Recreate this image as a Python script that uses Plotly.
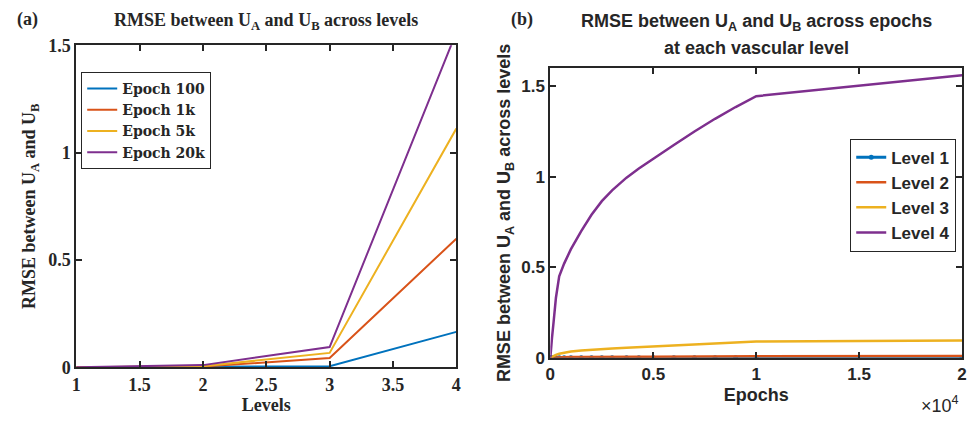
import plotly.graph_objects as go

# ---- Panel (a) data ----
levels = [1, 2, 3, 4]
epoch100 = [0.0, 0.001, 0.005, 0.165]
epoch1k = [0.0, 0.003, 0.043, 0.599]
epoch5k = [0.0, 0.005, 0.067, 1.112]
epoch20k = [0.0, 0.010, 0.094, 1.56]
series_a = [("Epoch 100", epoch100), ("Epoch 1k", epoch1k),
            ("Epoch 5k", epoch5k), ("Epoch 20k", epoch20k)]

# ---- Panel (b) data ----
epochs = [0, 30, 80, 160, 270, 430, 670, 1000, 1500, 2000, 2500, 3000, 3700, 4300,
          5000, 6000, 7000, 8000, 9000, 10000, 20000]
level1 = [0.0] * len(epochs)
level2 = [0.0, 0.001, 0.001, 0.002, 0.002, 0.003, 0.003, 0.004, 0.004, 0.005, 0.005,
          0.005, 0.006, 0.006, 0.006, 0.007, 0.007, 0.008, 0.008, 0.008, 0.010]
level3 = [0.0, 0.002, 0.005, 0.010, 0.016, 0.022, 0.028, 0.034, 0.040, 0.045, 0.048,
          0.051, 0.055, 0.058, 0.062, 0.068, 0.074, 0.080, 0.085, 0.090, 0.095]
level4 = [0.0, 0.05, 0.11, 0.20, 0.33, 0.45, 0.52, 0.60, 0.70, 0.79, 0.865,
          0.925, 0.995, 1.045, 1.10, 1.175, 1.25, 1.32, 1.385, 1.445, 1.56]
series_b = [("Level 1", level1), ("Level 2", level2),
            ("Level 3", level3), ("Level 4", level4)]

colors = ["#0072BD", "#D95319", "#EDB120", "#7E2F8E"]

SERIF = "Liberation Serif"
LEG_SERIF = "DejaVu Serif"
SANS = "Liberation Sans"
INK = "#262626"

fig = go.Figure()

for (name, vals), c in zip(series_a, colors):
    fig.add_trace(go.Scatter(x=levels, y=vals, mode="lines", name="<b>%s</b>" % name,
                             line=dict(color=c, width=2), xaxis="x", yaxis="y",
                             legend="legend"))

for i, ((name, vals), c) in enumerate(zip(series_b, colors)):
    fig.add_trace(go.Scatter(x=epochs, y=vals, mode="lines+markers" if i == 0 else "lines",
                             name="<b>%s</b>" % name,
                             line=dict(color=c, width=3 if i == 0 else 2.5),
                             marker=dict(size=5, color=c),
                             xaxis="x2", yaxis="y2", legend="legend2"))

W, H = 974, 423
def px(x): return x / W
def py(y): return 1 - y / H

axis_common = dict(showgrid=False, zeroline=False, showline=True, linecolor=INK,
                   linewidth=2, mirror="ticks", ticks="inside", ticklen=6,
                   tickwidth=1.5, tickcolor=INK)

def bold(lst):
    return ["<b>%s</b>" % t for t in lst]

fig.update_layout(
    width=W, height=H, margin=dict(l=0, r=0, t=0, b=0),
    paper_bgcolor="white", plot_bgcolor="white",
    xaxis=dict(domain=[px(72), px(456)], range=[1, 4],
               tickvals=[1, 1.5, 2, 2.5, 3, 3.5, 4],
               ticktext=bold(["1", "1.5", "2", "2.5", "3", "3.5", "4"]),
               tickfont=dict(family=SERIF, size=18, color=INK),
               title=dict(text="<b>Levels</b>", font=dict(family=SERIF, size=18, color=INK),
                          standoff=3),
               anchor="y", **axis_common),
    yaxis=dict(domain=[py(375), py(37)], range=[0, 1.5],
               tickvals=[0, 0.5, 1, 1.5],
               ticktext=bold(["0", "0.5", "1", "1.5"]),
               tickfont=dict(family=SERIF, size=18, color=INK),
               title=dict(text="<b>RMSE between U<sub>A</sub> and U<sub>B</sub></b>",
                          font=dict(family=SERIF, size=18, color=INK), standoff=8),
               anchor="x", **axis_common),
    xaxis2=dict(domain=[px(551), px(967)], range=[0, 20000],
                tickvals=[0, 5000, 10000, 15000, 20000],
                ticktext=bold(["0", "0.5", "1", "1.5", "2"]),
                tickfont=dict(family=SANS, size=17, color=INK),
                title=dict(text="<b>Epochs</b>", font=dict(family=SANS, size=18, color=INK),
                           standoff=5),
                anchor="y2", **axis_common),
    yaxis2=dict(domain=[py(365), py(61)], range=[0, 1.6],
                tickvals=[0, 0.5, 1, 1.5],
                ticktext=bold(["0", "0.5", "1", "1.5"]),
                tickfont=dict(family=SANS, size=17, color=INK),
                title=dict(text="<b>RMSE between U<sub>A</sub> and U<sub>B</sub> across levels</b>",
                           font=dict(family=SANS, size=18, color=INK), standoff=6),
                anchor="x2", **axis_common),
    legend=dict(x=px(77), y=py(65), xanchor="left", yanchor="top",
                bgcolor="white", bordercolor=INK, borderwidth=1,
                font=dict(family=LEG_SERIF, size=14, color=INK),
                itemwidth=30, tracegroupgap=0),
    legend2=dict(x=px(854), y=py(135), xanchor="left", yanchor="top",
                 bgcolor="white", bordercolor=INK, borderwidth=1,
                 font=dict(family=SANS, size=17, color=INK),
                 itemwidth=30, tracegroupgap=0),
    showlegend=True,
    annotations=[
        dict(text="<b>RMSE between U<sub>A</sub> and U<sub>B</sub> across levels</b>",
             x=px(264), y=py(12), xref="paper", yref="paper", showarrow=False,
             xanchor="center", yanchor="middle",
             font=dict(family=SERIF, size=18, color=INK)),
        dict(text="<b>RMSE between U<sub>A</sub> and U<sub>B</sub> across epochs</b>",
             x=px(759), y=py(13), xref="paper", yref="paper", showarrow=False,
             xanchor="center", yanchor="middle",
             font=dict(family=SANS, size=18, color=INK)),
        dict(text="<b>at each vascular level</b>",
             x=px(759), y=py(40), xref="paper", yref="paper", showarrow=False,
             xanchor="center", yanchor="middle",
             font=dict(family=SANS, size=18, color=INK)),
        dict(text="<b>(a)</b>", x=px(23), y=py(10), xref="paper", yref="paper",
             showarrow=False, xanchor="center", yanchor="middle",
             font=dict(family=SERIF, size=18, color=INK)),
        dict(text="<b>(b)</b>", x=px(522), y=py(10), xref="paper", yref="paper",
             showarrow=False, xanchor="center", yanchor="middle",
             font=dict(family=SERIF, size=18, color=INK)),
        dict(text="×10<sup>4</sup>", x=px(945), y=py(414), xref="paper", yref="paper",
             showarrow=False, xanchor="center", yanchor="middle",
             font=dict(family=SANS, size=18, color=INK)),
    ],
)

fig.write_html("out.html")
